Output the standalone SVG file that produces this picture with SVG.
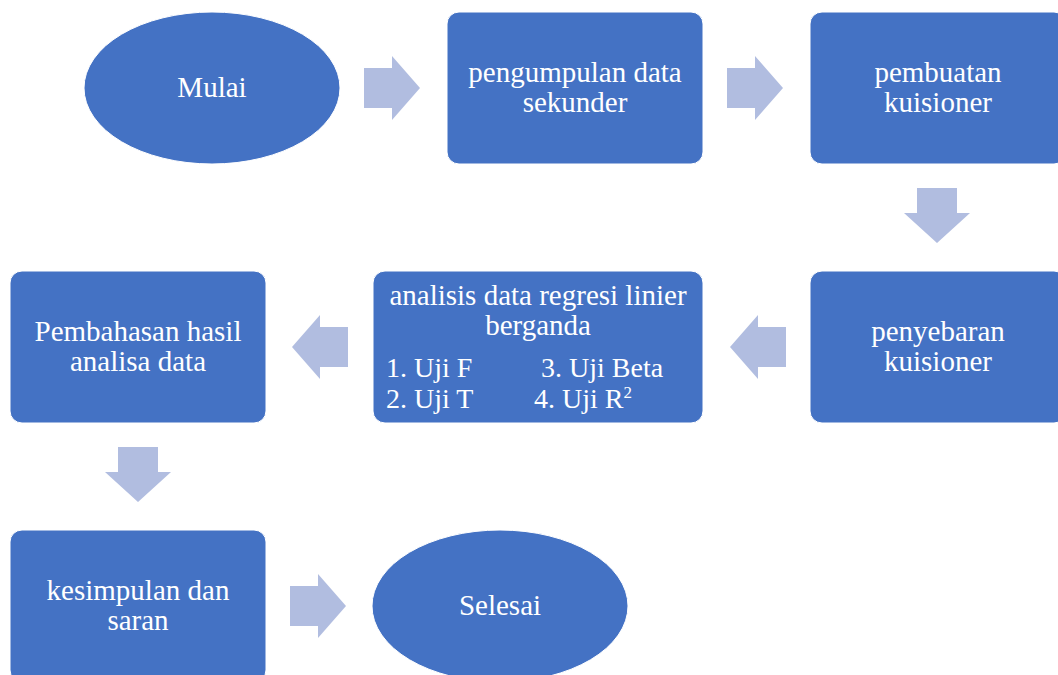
<svg xmlns="http://www.w3.org/2000/svg" width="1058" height="675" viewBox="0 0 1058 675">
<defs>
<style>
.n{fill:#4472C4;stroke:#ffffff;stroke-width:1}
.a{fill:#B1BDE0}
.t{font-family:"Liberation Serif","Times New Roman",serif;font-size:29px;fill:#ffffff;text-anchor:middle}
.l{font-family:"Liberation Serif","Times New Roman",serif;font-size:28px;fill:#ffffff}
</style>
<polygon id="ar" class="a" points="0,-20 28,-20 28,-32 56,0 28,32 28,20 0,20"/>
<polygon id="ad" class="a" points="-20,0 20,0 20,25 33,25 0,55 -33,25 -20,25"/>
</defs>
<rect width="1058" height="675" fill="#ffffff"/>
<g id="connectors">
<use href="#ar" x="364" y="88"/>
<use href="#ar" x="727" y="88"/>
<use href="#ad" x="937" y="188"/>
<use href="#ar" transform="translate(786,347) scale(-1,1)"/>
<use href="#ar" transform="translate(348,347) scale(-1,1)"/>
<use href="#ad" x="138" y="447"/>
<use href="#ar" x="290" y="606"/>
</g>
<g id="mulai">
<ellipse class="n" cx="212" cy="88" rx="128" ry="76"/>
<text class="t" x="212" y="97">Mulai</text>
</g>
<g id="pengumpulan">
<rect class="n" x="447" y="12" width="256" height="152" rx="12"/>
<text class="t" x="575" y="82">pengumpulan data</text>
<text class="t" x="575" y="112">sekunder</text>
</g>
<g id="pembuatan">
<rect class="n" x="810" y="12" width="256" height="152" rx="12"/>
<text class="t" x="938" y="82">pembuatan</text>
<text class="t" x="938" y="112">kuisioner</text>
</g>
<g id="penyebaran">
<rect class="n" x="810" y="271" width="256" height="152" rx="12"/>
<text class="t" x="938" y="341">penyebaran</text>
<text class="t" x="938" y="371">kuisioner</text>
</g>
<g id="analisis">
<rect class="n" x="373" y="271" width="330" height="152" rx="12"/>
<text class="t" x="538" y="305">analisis data regresi linier</text>
<text class="t" x="538" y="335">berganda</text>
<text class="l" x="386" y="377">1. Uji F</text>
<text class="l" x="541" y="377">3. Uji Beta</text>
<text class="l" x="386" y="408">2. Uji T</text>
<text class="l" x="534" y="408">4. Uji R<tspan font-size="17" dy="-10">2</tspan></text>
</g>
<g id="pembahasan">
<rect class="n" x="10" y="271" width="256" height="152" rx="12"/>
<text class="t" x="138" y="341">Pembahasan hasil</text>
<text class="t" x="138" y="371">analisa data</text>
</g>
<g id="kesimpulan">
<rect class="n" x="10" y="530" width="256" height="152" rx="12"/>
<text class="t" x="138" y="600">kesimpulan dan</text>
<text class="t" x="138" y="630">saran</text>
</g>
<g id="selesai">
<ellipse class="n" cx="500" cy="606" rx="128" ry="76"/>
<text class="t" x="500" y="615">Selesai</text>
</g>
</svg>
